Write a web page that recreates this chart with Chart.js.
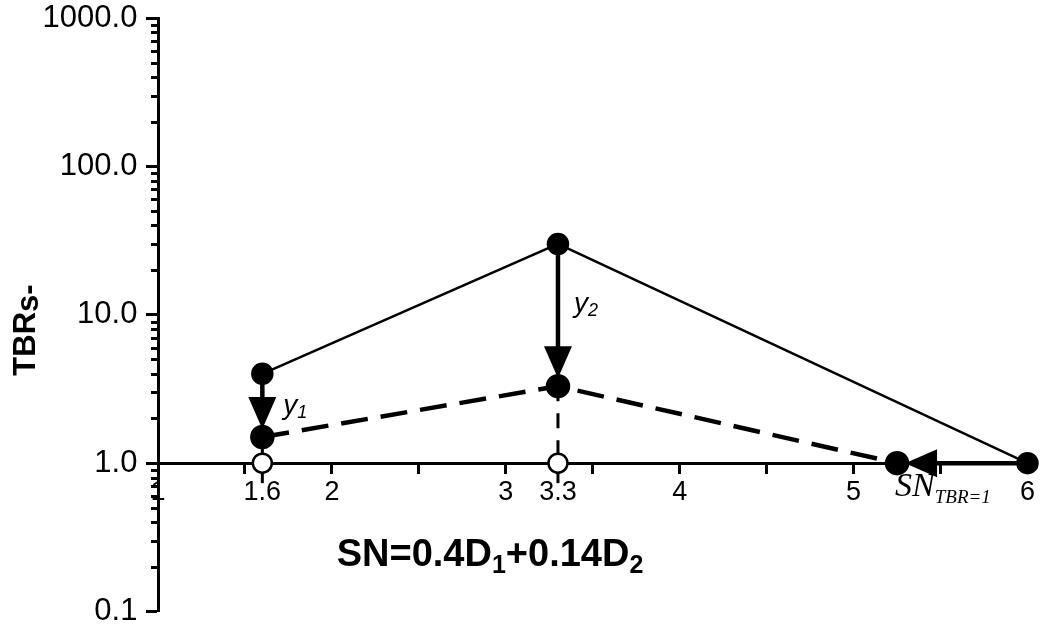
<!DOCTYPE html>
<html>
<head>
<meta charset="utf-8">
<script src="https://cdn.jsdelivr.net/npm/chart.js@4.4.1/dist/chart.umd.min.js"></script>
<style>
  body { margin: 0; background: #fff; }
  #wrap { width: 1042px; height: 626px; }
</style>
</head>
<body>
<div id="wrap"><canvas id="myChart" width="1042" height="626"></canvas></div>
<script>
// values
const snBefore = [1.6, 3.3, 6];      // SN of the upper (solid) curve
const tbrBefore = [4.0, 30, 1.0];
const snAfter = [1.6, 3.3, 5.25];    // SN of the lower (dashed) curve
const tbrAfter = [1.5, 3.3, 1.0];
const snBase = [1.6, 3.3];           // open circles on the TBR=1 line
const tbrBase = [1.0, 1.0];

const xTickValues = [1, 1.5, 1.6, 2, 2.5, 3, 3.3, 3.5, 4, 4.5, 5, 5.5, 6];
const xLabelValues = [1, 1.6, 2, 3, 3.3, 4, 5, 6];
const xLabelText = ['1', '1.6', '2', '3', '3.3', '4', '5', '6'];
const yTickValues = [0.1, 1, 10, 100, 1000];
const arrowNames = ['1', '2'];

const SANS = '"Liberation Sans", Arial, sans-serif';
const SERIF = '"Liberation Serif", "Times New Roman", serif';
Chart.defaults.font.family = SANS;
Chart.defaults.color = '#000';

const toPts = (xs, ys) => xs.map((x, i) => ({x: x, y: ys[i]}));

// draws a run of text pieces (for subscripts) starting at x
function drawRun(ctx, parts, x, y, align) {
    let total = 0;
    parts.forEach(p => { ctx.font = p.font; total += ctx.measureText(p.t).width; });
    let cx = align === 'center' ? x - total / 2 : x;
    parts.forEach(p => {
        ctx.font = p.font;
        ctx.fillText(p.t, cx, y + (p.dy || 0));
        cx += ctx.measureText(p.t).width;
    });
}

const extras = {
    id: 'extras',
    beforeDatasetsDraw(chart) {
        const {ctx, scales: {x, y}} = chart;
        ctx.save();
        ctx.strokeStyle = '#000';
        ctx.lineWidth = 3;
        const ax = x.left;
        // minor ticks on the log axis
        for (let d = 0; d < yTickValues.length - 1; d++) {
            for (let k = 2; k <= 9; k++) {
                const py = Math.round(y.getPixelForValue(yTickValues[d] * k)) + 0.5;
                ctx.beginPath();
                ctx.moveTo(ax - 7, py);
                ctx.lineTo(ax, py);
                ctx.stroke();
            }
        }
        // long ticks under the open circles
        const y1 = y.getPixelForValue(1);
        snBase.forEach(v => {
            const px = x.getPixelForValue(v);
            ctx.beginPath();
            ctx.moveTo(px, y1);
            ctx.lineTo(px, y1 + 20);
            ctx.stroke();
        });
        ctx.restore();
    },
    afterDatasetsDraw(chart) {
        const {ctx, scales: {x, y}} = chart;
        ctx.save();
        ctx.fillStyle = '#000';
        ctx.strokeStyle = '#000';
        snBefore.forEach((sv, i) => {
            const x0 = x.getPixelForValue(sv), y0 = y.getPixelForValue(tbrBefore[i]);
            const x1 = x.getPixelForValue(snAfter[i]), y1 = y.getPixelForValue(tbrAfter[i]);
            const len = Math.hypot(x1 - x0, y1 - y0);
            const ux = (x1 - x0) / len, uy = (y1 - y0) / len;
            const tipX = x1 - ux * 8, tipY = y1 - uy * 8;
            const bx = tipX - ux * 32, by = tipY - uy * 32;
            ctx.lineWidth = 4.5;
            ctx.beginPath();
            ctx.moveTo(x0, y0);
            ctx.lineTo(bx + ux * 2, by + uy * 2);
            ctx.stroke();
            ctx.beginPath();
            ctx.moveTo(tipX, tipY);
            ctx.lineTo(bx - uy * 14, by + ux * 14);
            ctx.lineTo(bx + uy * 14, by - ux * 14);
            ctx.closePath();
            ctx.fill();
        });
        // y1, y2 labels beside the vertical arrows
        ctx.textBaseline = 'alphabetic';
        const offs = [{dx: 21, dy: 9}, {dx: 16, dy: -3}];
        arrowNames.forEach((n, i) => {
            const px = x.getPixelForValue(snBefore[i]);
            const mid = (y.getPixelForValue(tbrBefore[i]) + y.getPixelForValue(tbrAfter[i])) / 2;
            drawRun(ctx, [
                {t: 'y', font: 'italic 28px ' + SANS},
                {t: n, font: 'italic 18px ' + SANS, dy: 4}
            ], px + offs[i].dx, mid + offs[i].dy, 'left');
        });
        ctx.restore();
    },
    afterDraw(chart) {
        const {ctx, scales: {x, y}} = chart;
        ctx.save();
        ctx.fillStyle = '#000';
        ctx.textBaseline = 'alphabetic';
        const y1 = y.getPixelForValue(1);
        // SN at TBR = 1
        drawRun(ctx, [
            {t: 'SN', font: 'italic 34px ' + SERIF},
            {t: 'TBR=1', font: 'italic 19px ' + SERIF, dy: 7}
        ], x.getPixelForValue(snAfter[2]) - 2, y1 + 33, 'left');
        // x title
        drawRun(ctx, [
            {t: 'SN=0.4D', font: 'bold 38px ' + SANS},
            {t: '1', font: 'bold 25px ' + SANS, dy: 7},
            {t: '+0.14D', font: 'bold 38px ' + SANS},
            {t: '2', font: 'bold 25px ' + SANS, dy: 7}
        ], 490, 566, 'center');
        // y title
        ctx.translate(35, 330);
        ctx.rotate(-Math.PI / 2);
        drawRun(ctx, [
            {t: 'TBR', font: 'bold 31px ' + SANS},
            {t: 's-', font: 'bold 31px ' + SANS, dy: 3}
        ], 0, 0, 'center');
        ctx.restore();
    }
};

const ctx = document.getElementById('myChart').getContext('2d');
const myChart = new Chart(ctx, {
    type: 'scatter',
    data: {
        datasets: [{
            label: 'base',
            data: toPts(snBase, tbrBase),
            showLine: false,
            pointRadius: 9.5,
            pointBackgroundColor: '#fff',
            pointBorderColor: '#000',
            pointBorderWidth: 2.5,
            order: 0
        }, {
            label: 'before',
            data: toPts(snBefore, tbrBefore),
            showLine: true,
            borderColor: '#000',
            borderWidth: 2.5,
            pointRadius: 10,
            pointBackgroundColor: '#000',
            pointBorderColor: '#000',
            order: 1
        }, {
            label: 'after',
            data: toPts(snAfter, tbrAfter),
            showLine: true,
            borderColor: '#000',
            borderWidth: 4.5,
            borderDash: [27, 13],
            pointRadius: 10,
            pointBackgroundColor: '#000',
            pointBorderColor: '#000',
            order: 1
        }, {
            label: 'drop1',
            data: [{x: snAfter[0], y: tbrAfter[0]}, {x: snBase[0], y: tbrBase[0]}],
            showLine: true,
            borderColor: '#000',
            borderWidth: 3,
            pointRadius: 0,
            order: 2
        }, {
            label: 'drop2',
            data: [{x: snAfter[1], y: tbrAfter[1]}, {x: snBase[1], y: tbrBase[1]}],
            showLine: true,
            borderColor: '#000',
            borderWidth: 3,
            borderDash: [15, 12],
            pointRadius: 0,
            order: 2
        }]
    },
    options: {
        responsive: false,
        animation: false,
        clip: false,
        layout: { padding: { top: 18, right: 10, bottom: 14, left: 0 } },
        plugins: { legend: { display: false }, tooltip: { enabled: false } },
        scales: {
            x: {
                type: 'linear',
                min: 1,
                max: 6,
                position: { y: 1 },
                border: { display: true, color: '#000', width: 3 },
                grid: { drawOnChartArea: false, tickLength: 9, tickWidth: 3, tickColor: '#000' },
                afterBuildTicks: s => { s.ticks = xTickValues.map(v => ({value: v})); },
                ticks: {
                    autoSkip: false,
                    maxRotation: 0,
                    padding: 7,
                    color: '#000',
                    font: { size: 27, lineHeight: 1 },
                    callback: v => {
                        const i = xLabelValues.indexOf(v);
                        return i < 0 ? '' : xLabelText[i];
                    }
                }
            },
            y: {
                type: 'logarithmic',
                min: 0.1,
                max: 1000,
                position: 'left',
                border: { display: true, color: '#000', width: 3 },
                grid: { drawOnChartArea: false, tickLength: 12, tickWidth: 3, tickColor: '#000' },
                afterBuildTicks: s => { s.ticks = yTickValues.map(v => ({value: v})); },
                afterFit: s => { s.width = 158; },
                ticks: {
                    // padding also pads the plot top/bottom, so the gap comes from a trailing space
                    padding: 0,
                    color: '#000',
                    font: { size: 31, lineHeight: 0.9 },
                    callback: v => Number(v).toFixed(1) + ' '
                }
            }
        }
    },
    plugins: [extras]
});
</script>
</body>
</html>
